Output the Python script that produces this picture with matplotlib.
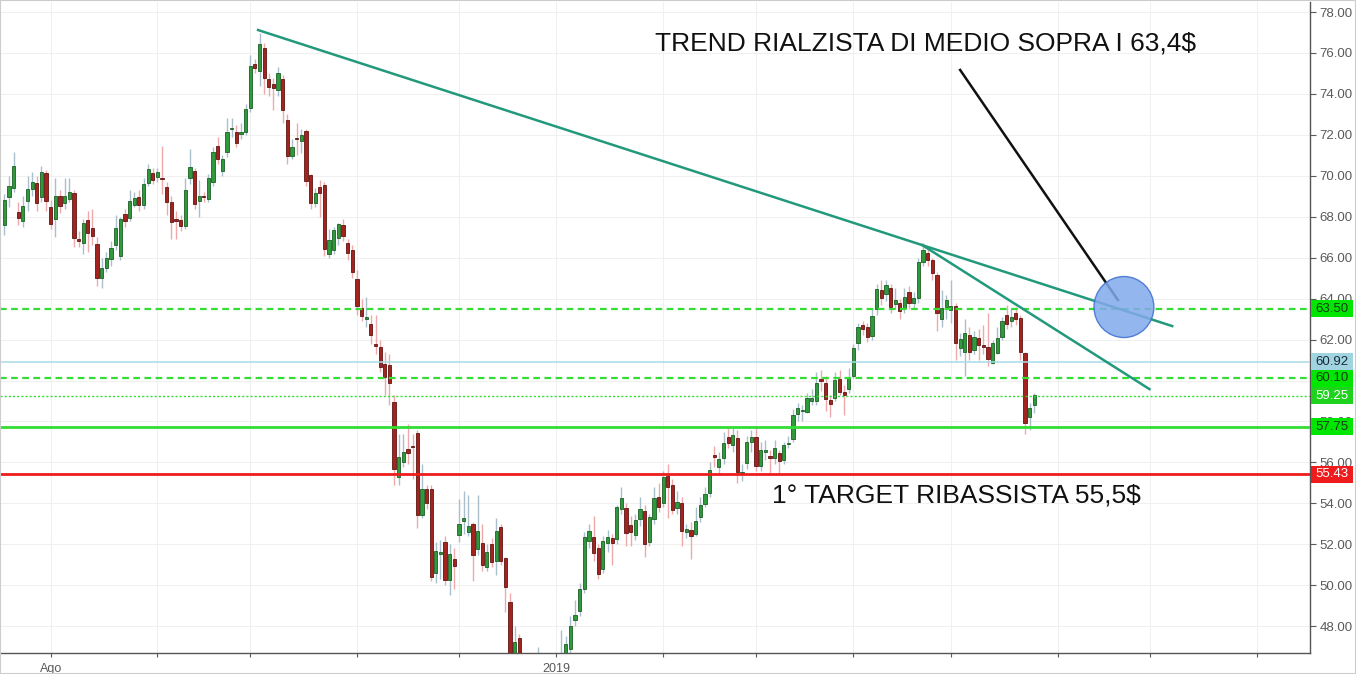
import matplotlib
matplotlib.use("Agg")
import matplotlib.pyplot as plt
from matplotlib.patches import Ellipse, Rectangle
import numpy as np

plt.rcParams['font.family'] = ['Liberation Sans', 'DejaVu Sans']

# daily candles (open, high, low, close)
opens = [67.6, 68.98, 69.42, 68.25, 67.8, 68.78, 69.37, 69.63, 68.98, 70.12,
         68.49, 67.87, 69.03, 68.65, 68.88, 69.14, 66.85, 66.73, 67.84, 67.46,
         66.65, 64.99, 65.51, 65.92, 66.62, 66.08, 68.12, 67.92, 68.57, 68.98,
         68.57, 69.66, 70.12, 69.92, 69.9, 69.47, 68.73, 67.89, 67.84, 67.55,
         69.91, 70.25, 68.78, 68.98, 68.85, 69.71, 71.45, 70.25, 71.14, 72.28,
         72.15, 72.02, 72.15, 73.29, 75.46, 75.12, 76.22, 74.73, 74.47, 74.19,
         74.73, 72.72, 70.98, 71.85, 71.7, 72.19, 70.04, 68.69, 69.43, 69.55,
         66.18, 66.37, 66.94, 67.6, 66.73, 66.37, 64.94, 63.56, 63.0, 62.74,
         61.77, 61.65, 60.8, 60.76, 58.93, 55.3, 56.03, 56.64, 56.78, 57.42,
         53.43, 54.68, 54.68, 50.61, 51.52, 52.12, 50.28, 51.28, 52.45, 53.15,
         52.61, 52.97, 51.75, 52.04, 50.9, 52.01, 51.2, 52.86, 51.31, 49.19,
         46.3, 47.44, 46.4, 45.8, 45.2, 45.6, 46.3, 45.0, 45.6, 45.9,
         46.3, 46.5, 46.88, 48.3, 48.74, 49.8, 52.17, 52.34, 51.8, 50.79,
         52.04, 52.32, 52.24, 53.7, 53.75, 52.94, 52.45, 53.22, 53.62, 52.12,
         53.26, 54.29, 54.03, 55.33, 54.89, 53.75, 54.0, 52.6, 52.69, 52.5,
         53.35, 53.97, 54.52, 56.36, 55.79, 56.2, 57.25, 56.85, 57.2, 55.47,
         55.95, 57.01, 57.25, 55.84, 56.52, 56.31, 56.2, 56.44, 56.12, 56.9,
         57.12, 58.36, 58.51, 58.48, 59.01, 59.01, 60.05, 59.89, 59.05, 59.13,
         60.05, 59.45, 59.57, 60.22, 61.81, 62.71, 62.6, 62.17, 63.47, 64.42,
         64.21, 64.5, 63.73, 63.8, 63.52, 64.34, 63.8, 64.01, 65.77, 66.24,
         65.88, 65.15, 62.99, 63.57, 63.44, 63.64, 61.57, 61.41, 62.22, 61.49,
         62.06, 61.73, 61.65, 60.87, 61.36, 62.14, 63.2, 62.92, 63.28, 63.03,
         61.32, 58.2, 58.8]
highs = [69.1, 70.0, 71.15, 68.7, 69.0, 70.0, 70.2, 70.0, 70.5, 70.3,
         68.8, 69.9, 69.3, 69.9, 69.9, 69.3, 67.3, 67.9, 68.3, 68.4,
         67.0, 66.0, 66.3, 66.8, 68.1, 68.0, 68.4, 69.3, 69.2, 69.3,
         69.9, 70.6, 70.4, 70.4, 71.45, 69.7, 69.0, 68.3, 68.1, 69.9,
         71.3, 70.4, 69.8, 69.2, 70.1, 71.4, 71.9, 71.0, 72.8, 72.8,
         72.5, 72.6, 73.5, 75.9, 75.7, 77.0, 76.5, 75.0, 74.8, 75.3,
         74.9, 73.0, 71.8, 72.6, 72.3, 72.3, 70.1, 69.4, 69.8, 69.7,
         67.4, 67.5, 67.7, 67.9, 66.9, 66.6, 65.4, 64.0, 64.1, 63.2,
         63.2, 62.0, 61.4, 61.3, 59.3, 57.4, 57.4, 57.9, 57.4, 57.6,
         55.9, 54.9, 54.9, 52.1, 52.2, 52.4, 52.0, 51.8, 54.2, 54.6,
         54.4, 53.1, 54.4, 53.0, 52.0, 52.3, 53.3, 53.0, 51.4, 49.6,
         48.0, 47.6, 46.6, 46.3, 46.0, 47.0, 46.5, 45.9, 46.2, 46.5,
         47.8, 47.5, 48.5, 49.3, 50.1, 52.6, 53.0, 53.4, 52.0, 52.4,
         52.7, 52.5, 53.9, 54.8, 54.0, 53.4, 53.5, 54.3, 53.9, 53.5,
         54.8, 55.0, 55.6, 55.9, 55.2, 54.6, 54.3, 53.0, 53.1, 53.8,
         54.3, 54.8, 56.0, 56.8, 56.5, 57.5, 57.8, 57.8, 57.6, 55.9,
         57.3, 57.6, 57.8, 57.0, 57.1, 56.6, 57.1, 56.6, 57.0, 57.3,
         58.6, 58.9, 58.8, 59.4, 59.6, 60.4, 60.5, 60.2, 59.3, 60.4,
         60.5, 59.8, 60.6, 61.8, 62.8, 62.9, 62.8, 63.5, 64.7, 64.9,
         64.9, 64.7, 64.5, 64.0, 64.5, 64.6, 64.3, 66.0, 66.7, 66.5,
         66.0, 65.3, 64.4, 64.2, 64.9, 63.8, 62.3, 63.0, 62.6, 62.4,
         62.5, 62.7, 63.3, 62.0, 62.6, 63.1, 63.7, 63.5, 63.6, 63.2,
         61.4, 58.9, 59.4]
lows = [67.1, 68.5, 69.2, 67.6, 67.5, 68.3, 69.0, 68.3, 68.7, 68.3,
        67.4, 67.0, 68.2, 68.4, 68.7, 66.5, 66.5, 66.2, 66.3, 66.6,
        64.6, 64.5, 65.3, 65.6, 66.4, 65.9, 67.5, 67.8, 68.5, 68.3,
        68.4, 69.5, 69.6, 69.7, 69.1, 68.1, 66.9, 66.9, 67.3, 67.4,
        69.6, 68.4, 68.0, 68.7, 68.7, 69.5, 70.6, 70.0, 70.9, 71.9,
        71.4, 71.8, 72.0, 73.1, 75.0, 74.4, 74.0, 73.9, 73.2, 73.9,
        72.6, 70.6, 70.8, 71.0, 71.1, 69.5, 68.4, 68.5, 68.0, 66.1,
        66.0, 66.2, 66.6, 66.8, 65.9, 65.0, 63.2, 62.9, 62.6, 61.8,
        61.3, 60.4, 59.3, 58.8, 54.9, 54.9, 55.8, 55.9, 55.2, 52.8,
        53.3, 53.7, 50.2, 50.1, 50.3, 50.0, 49.5, 49.8, 52.1, 52.5,
        52.4, 50.2, 51.5, 50.7, 50.7, 50.9, 50.5, 51.0, 48.7, 45.9,
        46.0, 46.0, 45.5, 44.9, 44.6, 45.3, 44.8, 44.5, 45.2, 45.4,
        45.9, 46.3, 46.7, 48.0, 48.5, 49.6, 51.8, 51.2, 50.3, 50.6,
        51.6, 51.0, 52.0, 53.5, 51.9, 51.9, 52.2, 52.9, 51.4, 51.9,
        53.0, 53.6, 53.8, 53.3, 53.5, 53.5, 51.9, 52.3, 51.3, 52.4,
        53.1, 53.8, 54.3, 55.8, 55.4, 55.9, 56.7, 56.5, 55.0, 55.1,
        55.7, 56.5, 55.6, 55.6, 56.1, 55.5, 55.9, 55.4, 55.9, 56.7,
        57.0, 58.0, 58.0, 58.4, 58.8, 58.8, 59.5, 58.5, 58.2, 59.0,
        59.3, 58.3, 59.4, 60.1, 61.5, 62.2, 61.9, 62.0, 63.2, 63.7,
        63.9, 63.3, 63.5, 63.0, 63.3, 63.5, 63.5, 63.8, 65.6, 65.6,
        64.9, 62.4, 62.6, 63.0, 62.8, 61.0, 61.2, 60.2, 61.0, 61.3,
        61.0, 61.3, 60.7, 60.8, 61.3, 62.0, 62.5, 62.6, 62.7, 61.0,
        57.4, 57.6, 58.4]
closes = [68.82, 69.52, 70.49, 67.92, 68.54, 69.34, 69.68, 68.68, 70.17, 68.78,
          67.65, 69.03, 68.52, 69.03, 69.19, 66.94, 66.83, 67.68, 67.22, 67.06,
          65.02, 65.48, 65.97, 66.45, 67.43, 67.89, 67.81, 68.75, 68.93, 68.57,
          69.58, 70.31, 69.79, 70.17, 69.85, 68.7, 67.76, 67.8, 67.55, 69.3,
          70.41, 68.62, 69.03, 68.96, 69.87, 71.18, 70.82, 70.8, 72.15, 72.3,
          71.58, 72.15, 73.26, 75.36, 75.25, 76.44, 74.76, 74.35, 74.3, 75.0,
          73.2, 70.98, 71.39, 71.8, 71.99, 69.76, 68.69, 69.14, 69.17, 66.42,
          66.86, 67.35, 67.63, 67.07, 66.21, 65.31, 63.65, 63.15, 63.12, 62.22,
          61.68, 60.67, 60.19, 59.89, 55.66, 56.28, 56.52, 56.47, 56.76, 53.43,
          54.68, 54.0, 50.41, 51.67, 51.62, 50.28, 51.52, 50.94, 52.97, 53.3,
          52.9, 51.47, 52.65, 50.99, 51.63, 51.15, 52.65, 51.2, 49.89, 46.2,
          47.24, 46.3, 45.8, 45.1, 45.6, 46.4, 45.0, 45.7, 45.9, 46.2,
          46.5, 47.13, 48.02, 48.57, 49.8, 52.37, 52.65, 51.59, 50.53, 52.17,
          52.37, 52.08, 53.8, 54.24, 52.53, 52.61, 53.18, 53.7, 52.01, 53.31,
          54.24, 53.8, 55.27, 54.81, 53.67, 54.05, 52.66, 52.73, 52.4, 53.13,
          53.92, 54.45, 55.63, 56.28, 56.15, 56.93, 56.96, 57.34, 55.51, 55.54,
          56.98, 57.25, 55.84, 56.6, 56.6, 56.23, 56.72, 56.08, 56.85, 56.97,
          58.31, 58.67, 58.56, 59.13, 59.13, 59.89, 59.97, 59.08, 58.83, 60.02,
          59.45, 59.29, 60.19, 61.57, 62.6, 62.51, 62.11, 63.15, 64.45, 64.01,
          64.66, 63.6, 63.93, 63.41, 64.09, 63.8, 64.01, 65.77, 66.37, 65.88,
          65.23, 63.31, 63.56, 63.93, 63.64, 61.81, 62.01, 62.3, 61.41, 62.14,
          61.73, 61.65, 61.03, 61.81, 62.06, 62.92, 62.76, 63.12, 62.99, 61.41,
          57.94, 58.64, 59.29]

# month starts (bar index) and their labels
month_bars = [10, 33, 53, 76, 98, 119, 142, 162, 183, 204, 227, 247, 270]
month_labels = ['Ago', '', '', '', '', '2019', '', '', '', '', '', '', '']

price_ticks = list(range(48, 80, 2))
# 60.00 sits fully under the level labels in the original, so no text there
price_labels = ['' if p == 60 else f'{p:.2f}' for p in price_ticks]

# horizontal levels: price, line colour, line style, width, label bg, label text colour
levels = [63.50, 60.92, 60.10, 59.25, 57.75, 55.43]
level_colors = ['#33dd33', '#a8dbe6', '#33dd33', '#33dd33', '#33dd33', '#ee1c1c']
level_styles = [(0, (3, 2)), '-', (0, (3, 2)), (0, (1.5, 1.5)), '-', '-']
level_widths = [1.6, 1.1, 1.6, 1.0, 2.0, 2.0]
label_bg = ['#00e600', '#9fd4e0', '#00e600', '#1ed21e', '#00e600', '#ee1c1c']
label_fg = ['#1a3a1a', '#1a2a3a', '#1a3a1a', '#ffffff', '#1a3a1a', '#ffffff']

# drawn trend lines (bar index, price)
trend1 = ([54.7, 251.7], [77.12, 62.66])
trend2 = ([197.8, 246.8], [66.62, 59.58])
pointer = ([206.0, 240.0], [75.17, 63.93])

o = np.array(opens)
h = np.array(highs)
l = np.array(lows)
c = np.array(closes)
x = np.arange(len(o))
up = c >= o

fig = plt.figure(figsize=(13.56, 6.74), dpi=100)
ax = fig.add_axes([0.0, 21 / 674, 1310 / 1356, 651 / 674])

# grid
for p in price_ticks:
    ax.axhline(p, color='#f0f0f0', lw=0.8, zorder=0)
for b in month_bars:
    ax.axvline(b, color='#f0f0f0', lw=0.8, zorder=0)

# wicks
ax.vlines(x[up], l[up], h[up], color='#a9bfcc', lw=1, zorder=2)
ax.vlines(x[~up], l[~up], h[~up], color='#eeaaaa', lw=1, zorder=2)

# bodies
body_lo = np.minimum(o, c)
body_h = np.maximum(np.abs(c - o), 0.06)
ax.bar(x[up], body_h[up], bottom=body_lo[up], width=0.7,
       color='#2f9a3c', edgecolor='#1d5e25', lw=0.6, zorder=3)
ax.bar(x[~up], body_h[~up], bottom=body_lo[~up], width=0.7,
       color='#a3241f', edgecolor='#5e1512', lw=0.6, zorder=3)

# levels
for p, col, ls, lw in zip(levels, level_colors, level_styles, level_widths):
    ax.axhline(p, color=col, ls=ls, lw=lw, zorder=4)

# trend lines and pointer
ax.plot(trend1[0], trend1[1], color='#23997c', lw=1.8, zorder=5)
ax.plot(trend2[0], trend2[1], color='#23997c', lw=1.8, zorder=5)
ax.plot(pointer[0], pointer[1], color='#111111', lw=1.8, zorder=5)
ax.add_patch(Ellipse((241.3, 63.59), 12.9, 2.98, facecolor='#82aaec',
                     edgecolor='#3d6fd0', lw=1, alpha=0.85, zorder=6))

ax.text(140.2, 76.44, 'TREND RIALZISTA DI MEDIO SOPRA I 63,4$',
        fontsize=19, color='#111111', va='center', ha='left', zorder=7)
ax.text(165.5, 54.4, '1° TARGET RIBASSISTA 55,5$',
        fontsize=19, color='#111111', va='center', ha='left', zorder=7)

ax.set_xlim(-0.93, 281.4)
ax.set_ylim(46.69, 78.49)

ax.set_xticks(month_bars)
ax.set_xticklabels(month_labels)
ax.set_yticks(price_ticks)
ax.set_yticklabels(price_labels)
ax.yaxis.tick_right()
ax.tick_params(axis='y', length=4, pad=3, colors='#5a5a5a', labelsize=9.5)
ax.tick_params(axis='x', length=3, pad=4, colors='#5a5a5a', labelsize=9)

for s in ['top', 'left']:
    ax.spines[s].set_visible(False)
for s in ['right', 'bottom']:
    ax.spines[s].set_color('#555555')
    ax.spines[s].set_linewidth(1)

# price labels for the levels, drawn over the axis labels
ytr = ax.get_yaxis_transform()
box_w = 42 / 1310
box_h = 0.83
for p, bg, fg in zip(levels, label_bg, label_fg):
    ax.add_patch(Rectangle((1.0008, p - box_h / 2), box_w, box_h, transform=ytr,
                           facecolor=bg, edgecolor='none', clip_on=False, zorder=9))
    ax.text(1.0008 + box_w / 2, p, f'{p:.2f}', transform=ytr, fontsize=9.5, color=fg,
            va='center', ha='center', clip_on=False, zorder=10)

fig.patches.append(Rectangle((0, 0), 1, 1, transform=fig.transFigure,
                             fill=False, edgecolor='#cccccc', lw=1.5))

fig.savefig('out.png', dpi=100)
